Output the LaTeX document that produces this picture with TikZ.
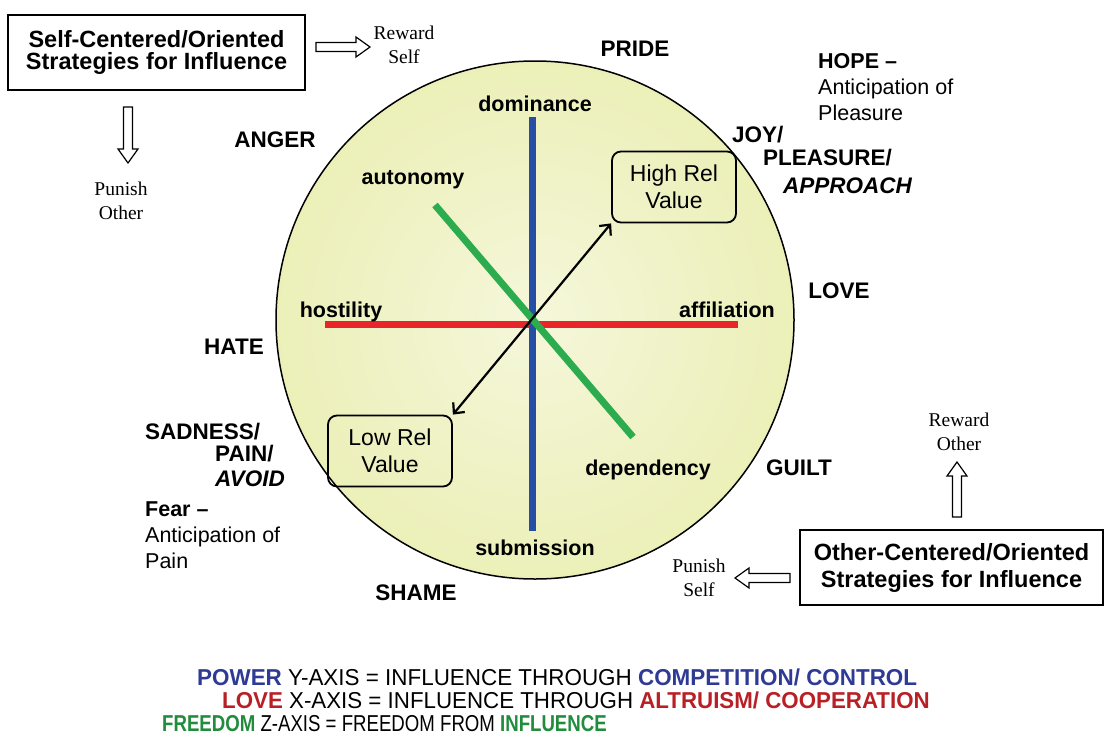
\documentclass[tikz,border=0pt]{standalone}
\usepackage{fontspec}
\setmainfont{Liberation Sans}
\newfontfamily\serifnote{Liberation Serif}
\usetikzlibrary{calc,arrows.meta}

\definecolor{discin}{RGB}{245,247,218}
\definecolor{discout}{RGB}{226,232,150}
\definecolor{axisblue}{RGB}{38,78,165}
\definecolor{axisred}{RGB}{232,38,42}
\definecolor{axisgreen}{RGB}{44,172,78}
\definecolor{keyblue}{RGB}{46,58,148}
\definecolor{keyred}{RGB}{185,32,38}
\definecolor{keygreen}{RGB}{32,140,60}

\pgfdeclareradialshading{discshade}{\pgfpoint{0bp}{0bp}}{color(0bp)=(discin); color(50bp)=(discout)}

% hollow block arrow from #1 to #2
\newcommand{\hollowarrow}[2]{%
  \coordinate (#1-#2) at ($(#2)!14pt!(#1)$);
  \draw[line width=1.2pt, fill=white, line join=miter]
    ($(#1)!4.5pt!90:(#2)$) -- ($(#1-#2)!4.5pt!-90:(#1)$) -- ($(#1-#2)!10pt!-90:(#1)$) -- (#2)
    -- ($(#1-#2)!10pt!90:(#1)$) -- ($(#1-#2)!4.5pt!90:(#1)$) -- ($(#1)!4.5pt!-90:(#2)$) -- cycle;}

\begin{document}
\begin{tikzpicture}[x=1pt,y=-1pt,
    emotion/.style={font=\bfseries\fontsize{22.5}{26}\selectfont, inner sep=0pt, anchor=base},
    axislabel/.style={font=\bfseries\fontsize{21.5}{26}\selectfont, inner sep=0pt, anchor=base},
    note/.style={font=\fontsize{21.5}{26}\selectfont, align=left, inner sep=0pt, anchor=north west},
    outcome/.style={font=\serifnote\fontsize{19.5}{23.5}\selectfont, align=center, inner sep=0pt},
    strategy/.style={draw, line width=2.4pt, align=center, inner sep=0pt, minimum width=297pt, minimum height=75pt},
    relbox/.style={draw, line width=1.8pt, rounded corners=9pt, align=center, inner sep=0pt,
      minimum width=124pt, minimum height=71pt, font=\fontsize{23}{27}\selectfont},
    axis/.style={line width=7pt},
    keyline/.style={font=\fontsize{23}{26}\selectfont, anchor=base west, inner sep=0pt}]

\useasboundingbox (0,0) rectangle (1106,736);

% the disc
\coordinate (O) at (535,320);
\shadedraw[shading=discshade, line width=1.5pt] (O) circle (259pt);

% the three axes
\coordinate (dom) at (532,117);
\coordinate (sub) at (532,531);
\coordinate (hos) at (325,324);
\coordinate (aff) at (738,324);
\coordinate (aut) at (435,205);
\coordinate (dep) at (633,437);
\draw[axis, axisred] (hos) -- (aff);
\draw[axis, axisblue] (dom) -- (sub);
\draw[axis, axisgreen] (aut) -- (dep);

\node[axislabel] (dominance) at (535,111) {dominance};
\node[axislabel] (submission) at (535,555) {submission};
\node[axislabel] (hostility) at (341,317) {hostility};
\node[axislabel] (affiliation) at (727,317) {affiliation};
\node[axislabel] (autonomy) at (413,184) {autonomy};
\node[axislabel] (dependency) at (648,475) {dependency};

% relational value
\node[relbox] (high) at (674,187) {High Rel\\Value};
\node[relbox] (low) at (390,451) {Low Rel\\Value};
\draw[line width=2.2pt, {Straight Barb[length=8pt,width=15pt]}-{Straight Barb[length=8pt,width=15pt]}] (low.north east) -- (high.south west);

% emotions round the disc
\node[emotion] (pride) at (635,56) {PRIDE};
\node[emotion] (anger) at (275,147) {ANGER};
\node[emotion] (love) at (839,298) {LOVE};
\node[emotion] (hate) at (234,354) {HATE};
\node[emotion] (guilt) at (799,475) {GUILT};
\node[emotion] (shame) at (416,600) {SHAME};
\node[emotion, anchor=base west] (joy) at (732,142) {JOY/};
\node[emotion, anchor=base west] (pleasure) at (763,165) {PLEASURE/};
\node[emotion, anchor=base west] (approach) at (783,193) {\itshape APPROACH};
\node[emotion, anchor=base west] (sadness) at (145,439) {SADNESS/};
\node[emotion, anchor=base west] (pain) at (215,461) {PAIN/};
\node[emotion, anchor=base west] (avoid) at (215,486) {\itshape AVOID};
\node[note] (hope) at (818,53) {\textbf{HOPE \textendash}\\Anticipation of\\Pleasure};
\node[note] (fear) at (145,502) {\textbf{Fear \textendash}\\Anticipation of\\Pain};

% strategies
\node[strategy, font=\bfseries\fontsize{23.5}{22}\selectfont] (selfbox) at (156.5,52.5) {Self-Centered/Oriented\\Strategies for Influence};
\node[strategy, font=\bfseries\fontsize{23.5}{27}\selectfont, minimum width=303pt] (otherbox) at (951.5,567.5) {Other-Centered/Oriented\\Strategies for Influence};

\node[outcome] (rewardself) at (404,45) {Reward\\Self};
\node[outcome] (punishother) at (121,201) {Punish\\Other};
\node[outcome] (rewardother) at (959,432) {Reward\\Other};
\node[outcome] (punishself) at (699,578) {Punish\\Self};

\coordinate (rs0) at (316,47);
\coordinate (rs1) at (370,47);
\coordinate (po0) at (128,107);
\coordinate (po1) at (128,163);
\coordinate (ro0) at (957,517);
\coordinate (ro1) at (957,462);
\coordinate (ps0) at (790,578);
\coordinate (ps1) at (735,578);
\hollowarrow{rs0}{rs1}
\hollowarrow{po0}{po1}
\hollowarrow{ro0}{ro1}
\hollowarrow{ps0}{ps1}

% key
\node[keyline] (powerkey) at (197,685) {\scalebox{0.975}[1]{\textbf{\color{keyblue}POWER} Y-AXIS = INFLUENCE THROUGH \textbf{\color{keyblue}COMPETITION/ CONTROL}}};
\node[keyline] (lovekey) at (222,708) {\scalebox{0.97}[1]{\textbf{\color{keyred}LOVE} X-AXIS = INFLUENCE THROUGH \textbf{\color{keyred}ALTRUISM/ COOPERATION}}};
\node[keyline] (freedomkey) at (162,731) {\scalebox{0.81}[1]{\textbf{\color{keygreen}FREEDOM} Z-AXIS = FREEDOM FROM \textbf{\color{keygreen}INFLUENCE}}};
\end{tikzpicture}
\end{document}
